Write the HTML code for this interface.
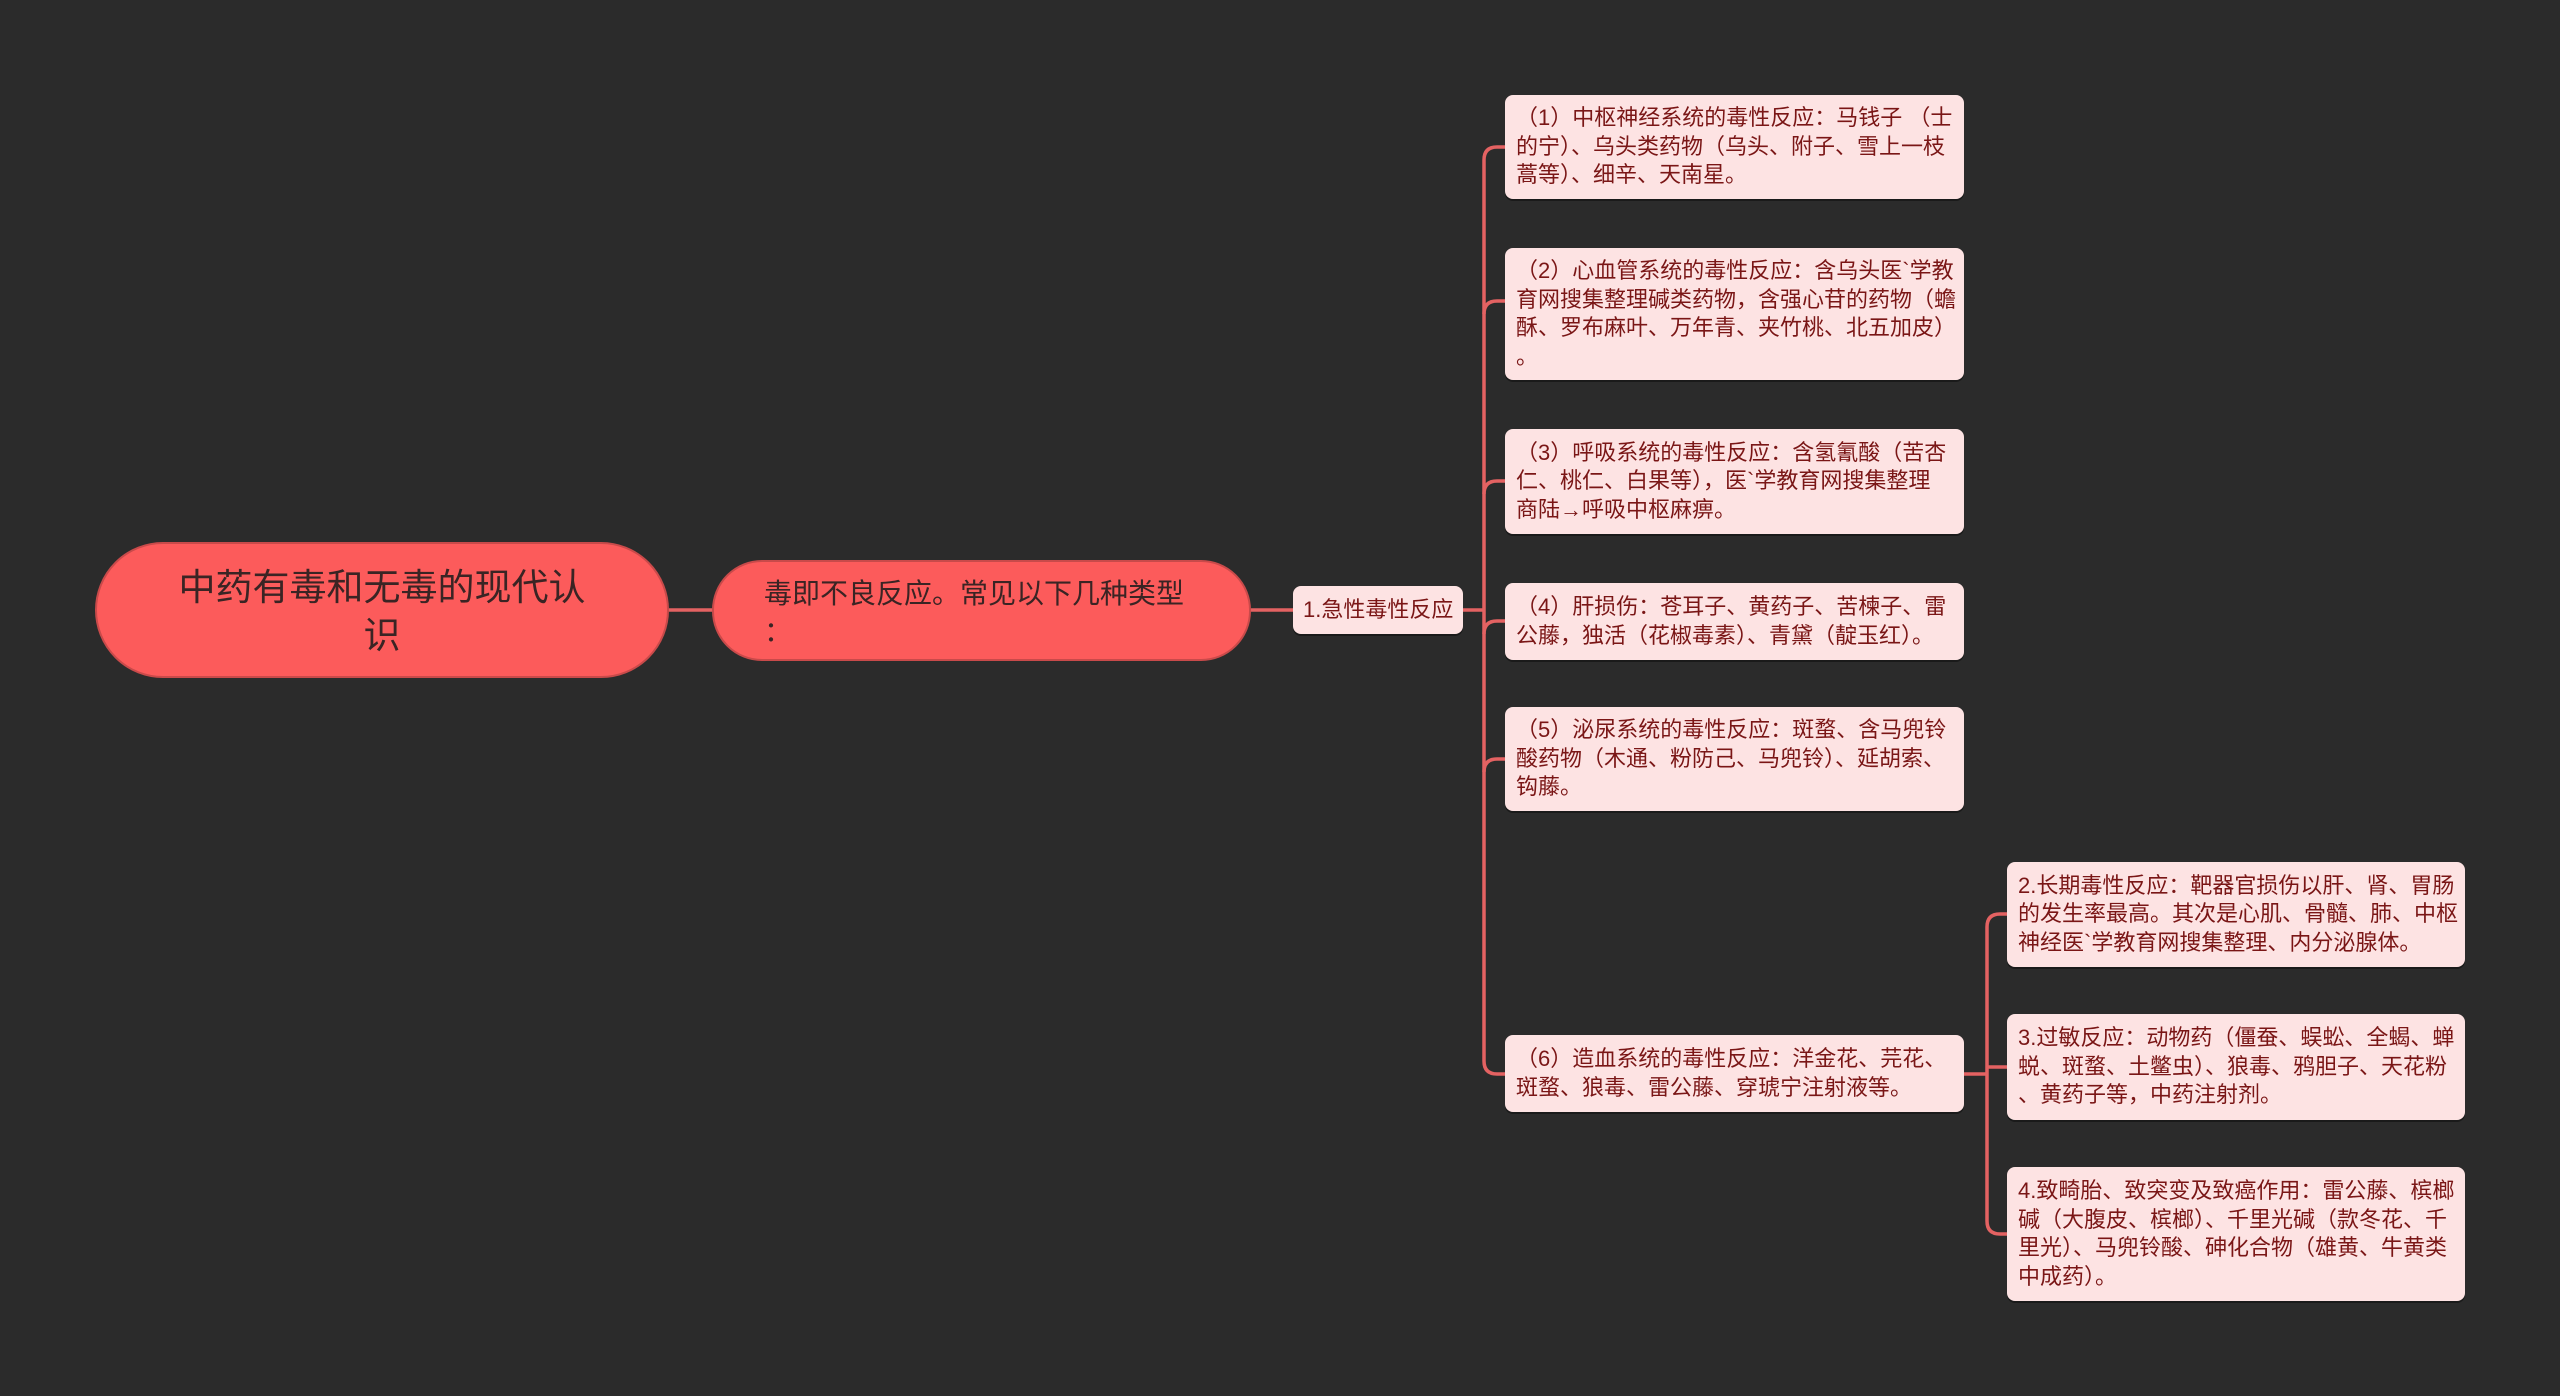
<!DOCTYPE html>
<html><head><meta charset="utf-8"><style>
body{margin:0;width:2560px;height:1396px;background:#2b2b2b;overflow:hidden;position:relative;font-family:"Liberation Sans","Noto Sans CJK SC",sans-serif}
.b{position:absolute;box-sizing:border-box;white-space:nowrap}
.leaf{background:#fde3e3;border-radius:8px;color:#7a1616;font-size:22px;line-height:28.5px;padding:0 11px;display:flex;align-items:center;box-shadow:0 2px 0 #1a1a1a}
svg{position:absolute;left:0;top:0}
</style></head><body>
<svg width="2560" height="1396" fill="none" stroke="#e46262" stroke-width="3.5">
<path d="M669 610 H712"/>
<path d="M1251 610 H1293"/>
<path d="M1463 610 H1484"/>
<path d="M1505 147 H1497 Q1484 147 1484 160 V1061 Q1484 1074 1497 1074 H1505"/>
<path d="M1484 314 Q1484 301 1497 301 H1505"/>
<path d="M1484 494 Q1484 481 1497 481 H1505"/>
<path d="M1484 634 Q1484 621 1497 621 H1505"/>
<path d="M1484 772 Q1484 759 1497 759 H1505"/>
<path d="M1964 1074 H1987"/>
<path d="M2007 914 H2000 Q1987 914 1987 927 V1221 Q1987 1234 2000 1234 H2007"/>
<path d="M1987 1067 H2007"/>
</svg>
<div class="b" style="left:95px;top:542px;width:574px;height:136px;background:#fc5b5b;border-radius:68px;color:#3a2424;font-size:37px;line-height:48px;text-align:center;padding-top:20px;border:2px solid #c94a4a">中药有毒和无毒的现代认<br>识</div>
<div class="b" style="left:712px;top:560px;width:539px;height:101px;background:#fc5b5b;border-radius:50px;color:#3a2424;font-size:28px;line-height:38px;padding:13px 0 0 50px;border:2px solid #c94a4a">毒即不良反应。常见以下几种类型<br>：</div>
<div class="b leaf" style="left:1293px;top:586px;width:170px;height:48px;font-size:22px;padding:0 10px">1.急性毒性反应</div>
<div class="b leaf" style="left:1505px;top:95px;width:459px;height:104px"><div>（1）中枢神经系统的毒性反应：马钱子 （士<br>的宁）、乌头类药物（乌头、附子、雪上一枝<br>蒿等）、细辛、天南星。</div></div>
<div class="b leaf" style="left:1505px;top:248px;width:459px;height:132px"><div>（2）心血管系统的毒性反应：含乌头医`学教<br>育网搜集整理碱类药物，含强心苷的药物（蟾<br>酥、罗布麻叶、万年青、夹竹桃、北五加皮）<br>。</div></div>
<div class="b leaf" style="left:1505px;top:429px;width:459px;height:105px"><div>（3）呼吸系统的毒性反应：含氢氰酸（苦杏<br>仁、桃仁、白果等），医`学教育网搜集整理<br>商陆→呼吸中枢麻痹。</div></div>
<div class="b leaf" style="left:1505px;top:583px;width:459px;height:77px"><div>（4）肝损伤：苍耳子、黄药子、苦楝子、雷<br>公藤，独活（花椒毒素）、青黛（靛玉红）。</div></div>
<div class="b leaf" style="left:1505px;top:707px;width:459px;height:104px"><div>（5）泌尿系统的毒性反应：斑蝥、含马兜铃<br>酸药物（木通、粉防己、马兜铃）、延胡索、<br>钩藤。</div></div>
<div class="b leaf" style="left:1505px;top:1035px;width:459px;height:77px"><div>（6）造血系统的毒性反应：洋金花、芫花、<br>斑蝥、狼毒、雷公藤、穿琥宁注射液等。</div></div>
<div class="b leaf" style="left:2007px;top:862px;width:458px;height:105px"><div>2.长期毒性反应：靶器官损伤以肝、肾、胃肠<br>的发生率最高。其次是心肌、骨髓、肺、中枢<br>神经医`学教育网搜集整理、内分泌腺体。</div></div>
<div class="b leaf" style="left:2007px;top:1014px;width:458px;height:106px"><div>3.过敏反应：动物药（僵蚕、蜈蚣、全蝎、蝉<br>蜕、斑蝥、土鳖虫）、狼毒、鸦胆子、天花粉<br>、黄药子等，中药注射剂。</div></div>
<div class="b leaf" style="left:2007px;top:1167px;width:458px;height:134px"><div>4.致畸胎、致突变及致癌作用：雷公藤、槟榔<br>碱（大腹皮、槟榔）、千里光碱（款冬花、千<br>里光）、马兜铃酸、砷化合物（雄黄、牛黄类<br>中成药）。</div></div>
</body></html>
